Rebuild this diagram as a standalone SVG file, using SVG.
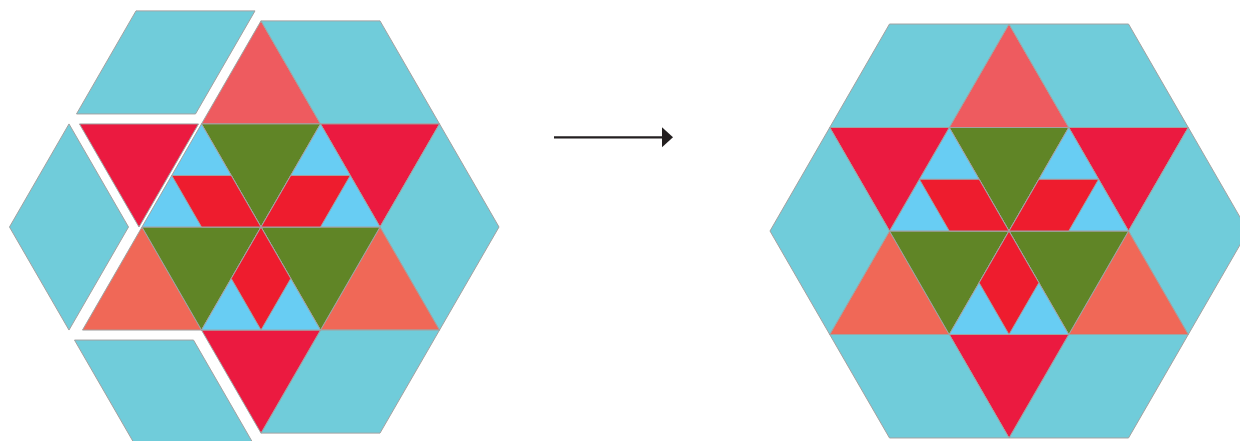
<svg xmlns="http://www.w3.org/2000/svg" width="1240" height="441" viewBox="0 0 1240 441">
<style>
polygon{stroke:#a2a2a2;stroke-width:1;stroke-linejoin:miter;vector-effect:non-scaling-stroke}
.cy{fill:#70ccda}
.sa{fill:#ee5b5f}
.cr{fill:#eb1a40}
.co{fill:#f06857}
.gr{fill:#608526}
.lb{fill:#68cdf3}
.rd{fill:#ee1c2e}
</style>
<defs>
<g id="core">
<polygon class="sa" points="0,-2 1,-1 -1,-1"/>
<polygon class="cy" points="0,-2 2,-2 3,-1 1,-1"/>
<polygon class="cr" points="1,-1 3,-1 2,0"/>
<polygon class="cy" points="3,-1 4,0 3,1 2,0"/>
<polygon class="co" points="2,0 3,1 1,1"/>
<polygon class="cy" points="1,1 3,1 2,2 0,2"/>
<polygon class="cr" points="-1,1 1,1 0,2"/>
<polygon class="co" points="-2,0 -1,1 -3,1"/>
<polygon class="gr" points="-1,-1 1,-1 0,0"/>
<polygon class="gr" points="-2,0 0,0 -1,1"/>
<polygon class="gr" points="0,0 2,0 1,1"/>
<polygon class="lb" points="-1,-1 0,0 -2,0"/>
<polygon class="lb" points="1,-1 2,0 0,0"/>
<polygon class="lb" points="0,0 1,1 -1,1"/>
<polygon class="rd" points="-1.5,-0.5 -0.5,-0.5 0,0 -1,0"/>
<polygon class="rd" points="0.5,-0.5 1.5,-0.5 1,0 0,0"/>
<polygon class="rd" points="0,0 0.5,0.5 0,1 -0.5,0.5"/>
</g>
<polygon id="tlRh" class="cy" points="-2,-2 0,-2 -1,-1 -3,-1"/>
<polygon id="lTri" class="cr" points="-3,-1 -1,-1 -2,0"/>
<polygon id="lRh" class="cy" points="-3,-1 -4,0 -3,1 -2,0"/>
<polygon id="blRh" class="cy" points="-3,1 -1,1 0,2 -2,2"/>
</defs>

<g id="before" transform="translate(261,227)">
<g id="before-core" transform="scale(59.5,103.06)"><use href="#core"/></g>
<g id="before-tl" transform="translate(-6,-10) scale(59.5,103.06)"><use href="#tlRh"/></g>
<g id="before-ltri" transform="translate(-3,0) scale(59.5,103.06)"><use href="#lTri"/></g>
<g id="before-l" transform="translate(-13.5,0) scale(59.5,103.06)"><use href="#lRh"/></g>
<g id="before-bl" transform="translate(-8,10) scale(59.5,103.06)"><use href="#blRh"/></g>
</g>

<g id="after" transform="translate(1009,231)">
<g id="after-tiles" transform="scale(59.75,103.49)">
<use href="#core"/>
<use href="#tlRh"/>
<use href="#lTri"/>
<use href="#lRh"/>
<use href="#blRh"/>
</g>
</g>

<g id="connectors">
<line x1="554" y1="137.3" x2="663" y2="137.3" stroke="#231f20" stroke-width="2.2"/>
<path d="M662,127.3 L673,137.3 L662,147.2 Z" fill="#231f20"/>
</g>
</svg>
